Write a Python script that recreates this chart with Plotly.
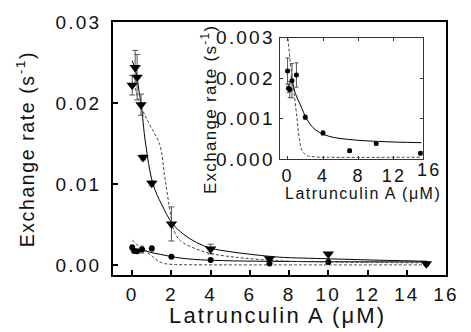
import plotly.graph_objects as go

# ---------------- data ----------------
# Triangles: exchange rate vs latrunculin A
tri_x = [0, 0.15, 0.25, 0.45, 0.55, 1, 2, 4, 7, 10, 15]
tri_y = [0.0222, 0.0244, 0.0232, 0.0198, 0.0133, 0.0101, 0.0051, 0.0020, 0.0008, 0.0014, 0.0002]
tri_err = [0.0012, 0.0021, 0.0028, 0.0013, 0.0003, 0.0003, 0.0021, 0.0006, 0.0003, 0.0001, 0.0001]

# Circles
circ_x = [0, 0.1, 0.25, 0.5, 1, 2, 4, 7, 10, 15]
circ_y = [0.00218, 0.00175, 0.00172, 0.00194, 0.00208, 0.00104, 0.00065, 0.00021, 0.00039, 0.00015]
circ_err = [0.00032, 0.0001, 0.0002, 0.00042, 0.0003, 0.00005, 0.00005, 0.00004, 0.00004, 0.00004]

# Fit curves (solid) and model curves (dashed)
tri_fit_x = [0, 0.18, 0.34, 0.47, 0.67, 1.05, 1.5, 2.06, 2.63, 3.28, 4.02, 4.92, 6.23, 7.5, 10, 13, 15]
tri_fit_y = [0.0252, 0.0240, 0.0216, 0.0196, 0.0152, 0.0101, 0.0075, 0.0051, 0.0038, 0.0028, 0.0021,
             0.0017, 0.0013, 0.0010, 0.0008, 0.0006, 0.0005]
tri_mod_x = [0.1, 0.34, 0.83, 1.4, 1.65, 1.9, 2.14, 2.47, 3.28, 4.1, 5.25, 6.55, 8, 10, 15]
tri_mod_y = [0.0225, 0.0202, 0.0176, 0.0149, 0.0111, 0.0071, 0.0042, 0.0030, 0.0020, 0.0014,
             0.0010, 0.0007, 0.0005, 0.0004, 0.0003]
circ_fit_x = [0.4, 0.89, 1.45, 2.2, 3.13, 4.64, 6.89, 10.26, 15.1]
circ_fit_y = [0.00205, 0.00162, 0.00134, 0.00098, 0.00073, 0.00057, 0.00049, 0.00044, 0.00041]
circ_mod_x = [0, 0.33, 0.7, 1.08, 1.34, 1.64, 2.2, 3, 4.6, 15]
circ_mod_y = [0.0031, 0.00235, 0.0017, 0.00098, 0.00049, 0.00021, 0.00009, 0.00006, 0.00005, 0.00005]

main_xticks = [0, 2, 4, 6, 8, 10, 12, 14, 16]
main_yticks = [0, 0.01, 0.02, 0.03]
main_ylabels = ["0.00", "0.01", "0.02", "0.03"]
ins_xticks = [0, 4, 8, 12]
ins_xlabel_end = 16
ins_yticks = [0, 0.001, 0.002, 0.003]
ins_ylabels = ["0.000", "0.001", "0.002", "0.003"]

x_title = "Latrunculin A (\u03bcM)"
y_title = "Exchange rate (s<sup>-1</sup>)"

# ---------------- styling helpers ----------------
W, H = 471, 332
ML, MR, MT, MB = 113, 14, 17, 57
PW, PH = W - ML - MR, H - MT - MB
FONT = "Liberation Sans, Arial, sans-serif"


def sp(s, ls):
    return f'<span style="letter-spacing:{ls}px">{s}</span>'


def px2paper(px, py):
    return (px - ML) / PW, (H - MB - py) / PH


ins_dom_x = [(286 - ML) / PW, (433 - ML) / PW]
ins_dom_y = [(H - MB - 157) / PH, (H - MB - 33) / PH]
ins_xrange = [-0.8, 15.25]

fig = go.Figure()

solid = dict(color="black", width=1)
dashed = dict(color="#444", width=1, dash="3px,2px")
ebar_col = "#555"

for xa, ya in (("x", "y"), ("x2", "y2")):
    fig.add_trace(go.Scatter(x=circ_mod_x, y=circ_mod_y, mode="lines", line=dashed,
                             line_shape="spline", xaxis=xa, yaxis=ya))
    fig.add_trace(go.Scatter(x=circ_fit_x, y=circ_fit_y, mode="lines", line=solid,
                             line_shape="spline", xaxis=xa, yaxis=ya))
    fig.add_trace(go.Scatter(x=circ_x, y=circ_y, mode="markers",
                             marker=dict(symbol="circle", size=6 if xa == "x" else 5, color="black"),
                             error_y=dict(type="data", array=circ_err, color=ebar_col,
                                          thickness=1, width=2),
                             xaxis=xa, yaxis=ya))

fig.add_trace(go.Scatter(x=tri_mod_x, y=tri_mod_y, mode="lines", line=dashed,
                         line_shape="spline"))
fig.add_trace(go.Scatter(x=tri_fit_x, y=tri_fit_y, mode="lines", line=solid,
                         line_shape="spline"))
fig.add_trace(go.Scatter(x=tri_x, y=tri_y, mode="markers",
                         marker=dict(symbol="triangle-down", size=10, color="black"),
                         error_y=dict(type="data", array=tri_err, color=ebar_col,
                                      thickness=1, width=3)))

tickfont = dict(family=FONT, size=19, color="#111")
ins_xtickfont = dict(family=FONT, size=18, color="#111")
LS_T = 2.2

fig.update_layout(
    width=W, height=H,
    margin=dict(l=ML, r=MR, t=MT, b=MB),
    paper_bgcolor="white", plot_bgcolor="white",
    showlegend=False,
    font=dict(family=FONT, color="#111"),
    xaxis=dict(range=[-0.98, 16.0], domain=[0, 1], showline=True, linewidth=2, linecolor="black",
               mirror=True, ticks="inside", ticklen=5, tickwidth=1.5, tickcolor="black",
               tickvals=main_xticks, ticktext=[sp(str(v), LS_T) for v in main_xticks],
               tickfont=tickfont, showgrid=False, zeroline=False, ticklabelstandoff=1),
    yaxis=dict(range=[-0.0012, 0.0300], domain=[0, 1], showline=True, linewidth=2, linecolor="black",
               mirror=True, ticks="inside", ticklen=5, tickwidth=1.5, tickcolor="black",
               tickvals=main_yticks, ticktext=[sp(t, LS_T) for t in main_ylabels],
               tickfont=tickfont, showgrid=False, zeroline=False, ticklabelstandoff=6),
    xaxis2=dict(range=ins_xrange, domain=ins_dom_x, anchor="y2", showline=True, linewidth=1,
                linecolor="#333", mirror="ticks", ticks="inside", ticklen=3, tickwidth=1,
                tickcolor="#333", tickvals=ins_xticks,
                ticktext=[sp(str(v), LS_T) for v in ins_xticks],
                tickfont=ins_xtickfont, showgrid=False, zeroline=False, ticklabelstandoff=0),
    yaxis2=dict(range=[0, 0.003], domain=ins_dom_y, anchor="x2", showline=True, linewidth=1,
                linecolor="#333", mirror="ticks", ticks="inside", ticklen=3, tickwidth=1,
                tickcolor="#333", tickvals=ins_yticks, ticktext=[sp(t, LS_T) for t in ins_ylabels],
                tickfont=tickfont, showgrid=False, zeroline=False, ticklabelstandoff=1),
)

# "16" end label of inset x axis (just beyond the frame, as in the reference)
fx = ins_dom_x[0] + (ins_xlabel_end - ins_xrange[0]) / (ins_xrange[1] - ins_xrange[0]) * (ins_dom_x[1] - ins_dom_x[0])
fig.add_annotation(x=fx, y=ins_dom_y[0], xref="paper", yref="paper", xanchor="center", yanchor="top",
                   text=sp(str(ins_xlabel_end), LS_T), showarrow=False, font=ins_xtickfont, yshift=1)

# axis titles
ax, ay = px2paper(283, 316)
fig.add_annotation(x=ax, y=ay, xref="paper", yref="paper", text=sp(x_title, 2.2), showarrow=False,
                   font=dict(family=FONT, size=22, color="#111"), xanchor="center", yanchor="middle")
ax, ay = px2paper(23, 147)
fig.add_annotation(x=ax, y=ay, xref="paper", yref="paper", text=sp(y_title, 1.6), showarrow=False,
                   textangle=-90, font=dict(family=FONT, size=19.5, color="#111"),
                   xanchor="center", yanchor="middle")
ax, ay = px2paper(371, 192)
fig.add_annotation(x=ax, y=ay, xref="paper", yref="paper", text=sp(x_title, 1.5), showarrow=False,
                   font=dict(family=FONT, size=16, color="#111"), xanchor="center", yanchor="middle")
ax, ay = px2paper(212, 106)
fig.add_annotation(x=ax, y=ay, xref="paper", yref="paper", text=sp(y_title, 1.3), showarrow=False,
                   textangle=-90, font=dict(family=FONT, size=17, color="#111"),
                   xanchor="center", yanchor="middle")

fig.write_html("out.html")
